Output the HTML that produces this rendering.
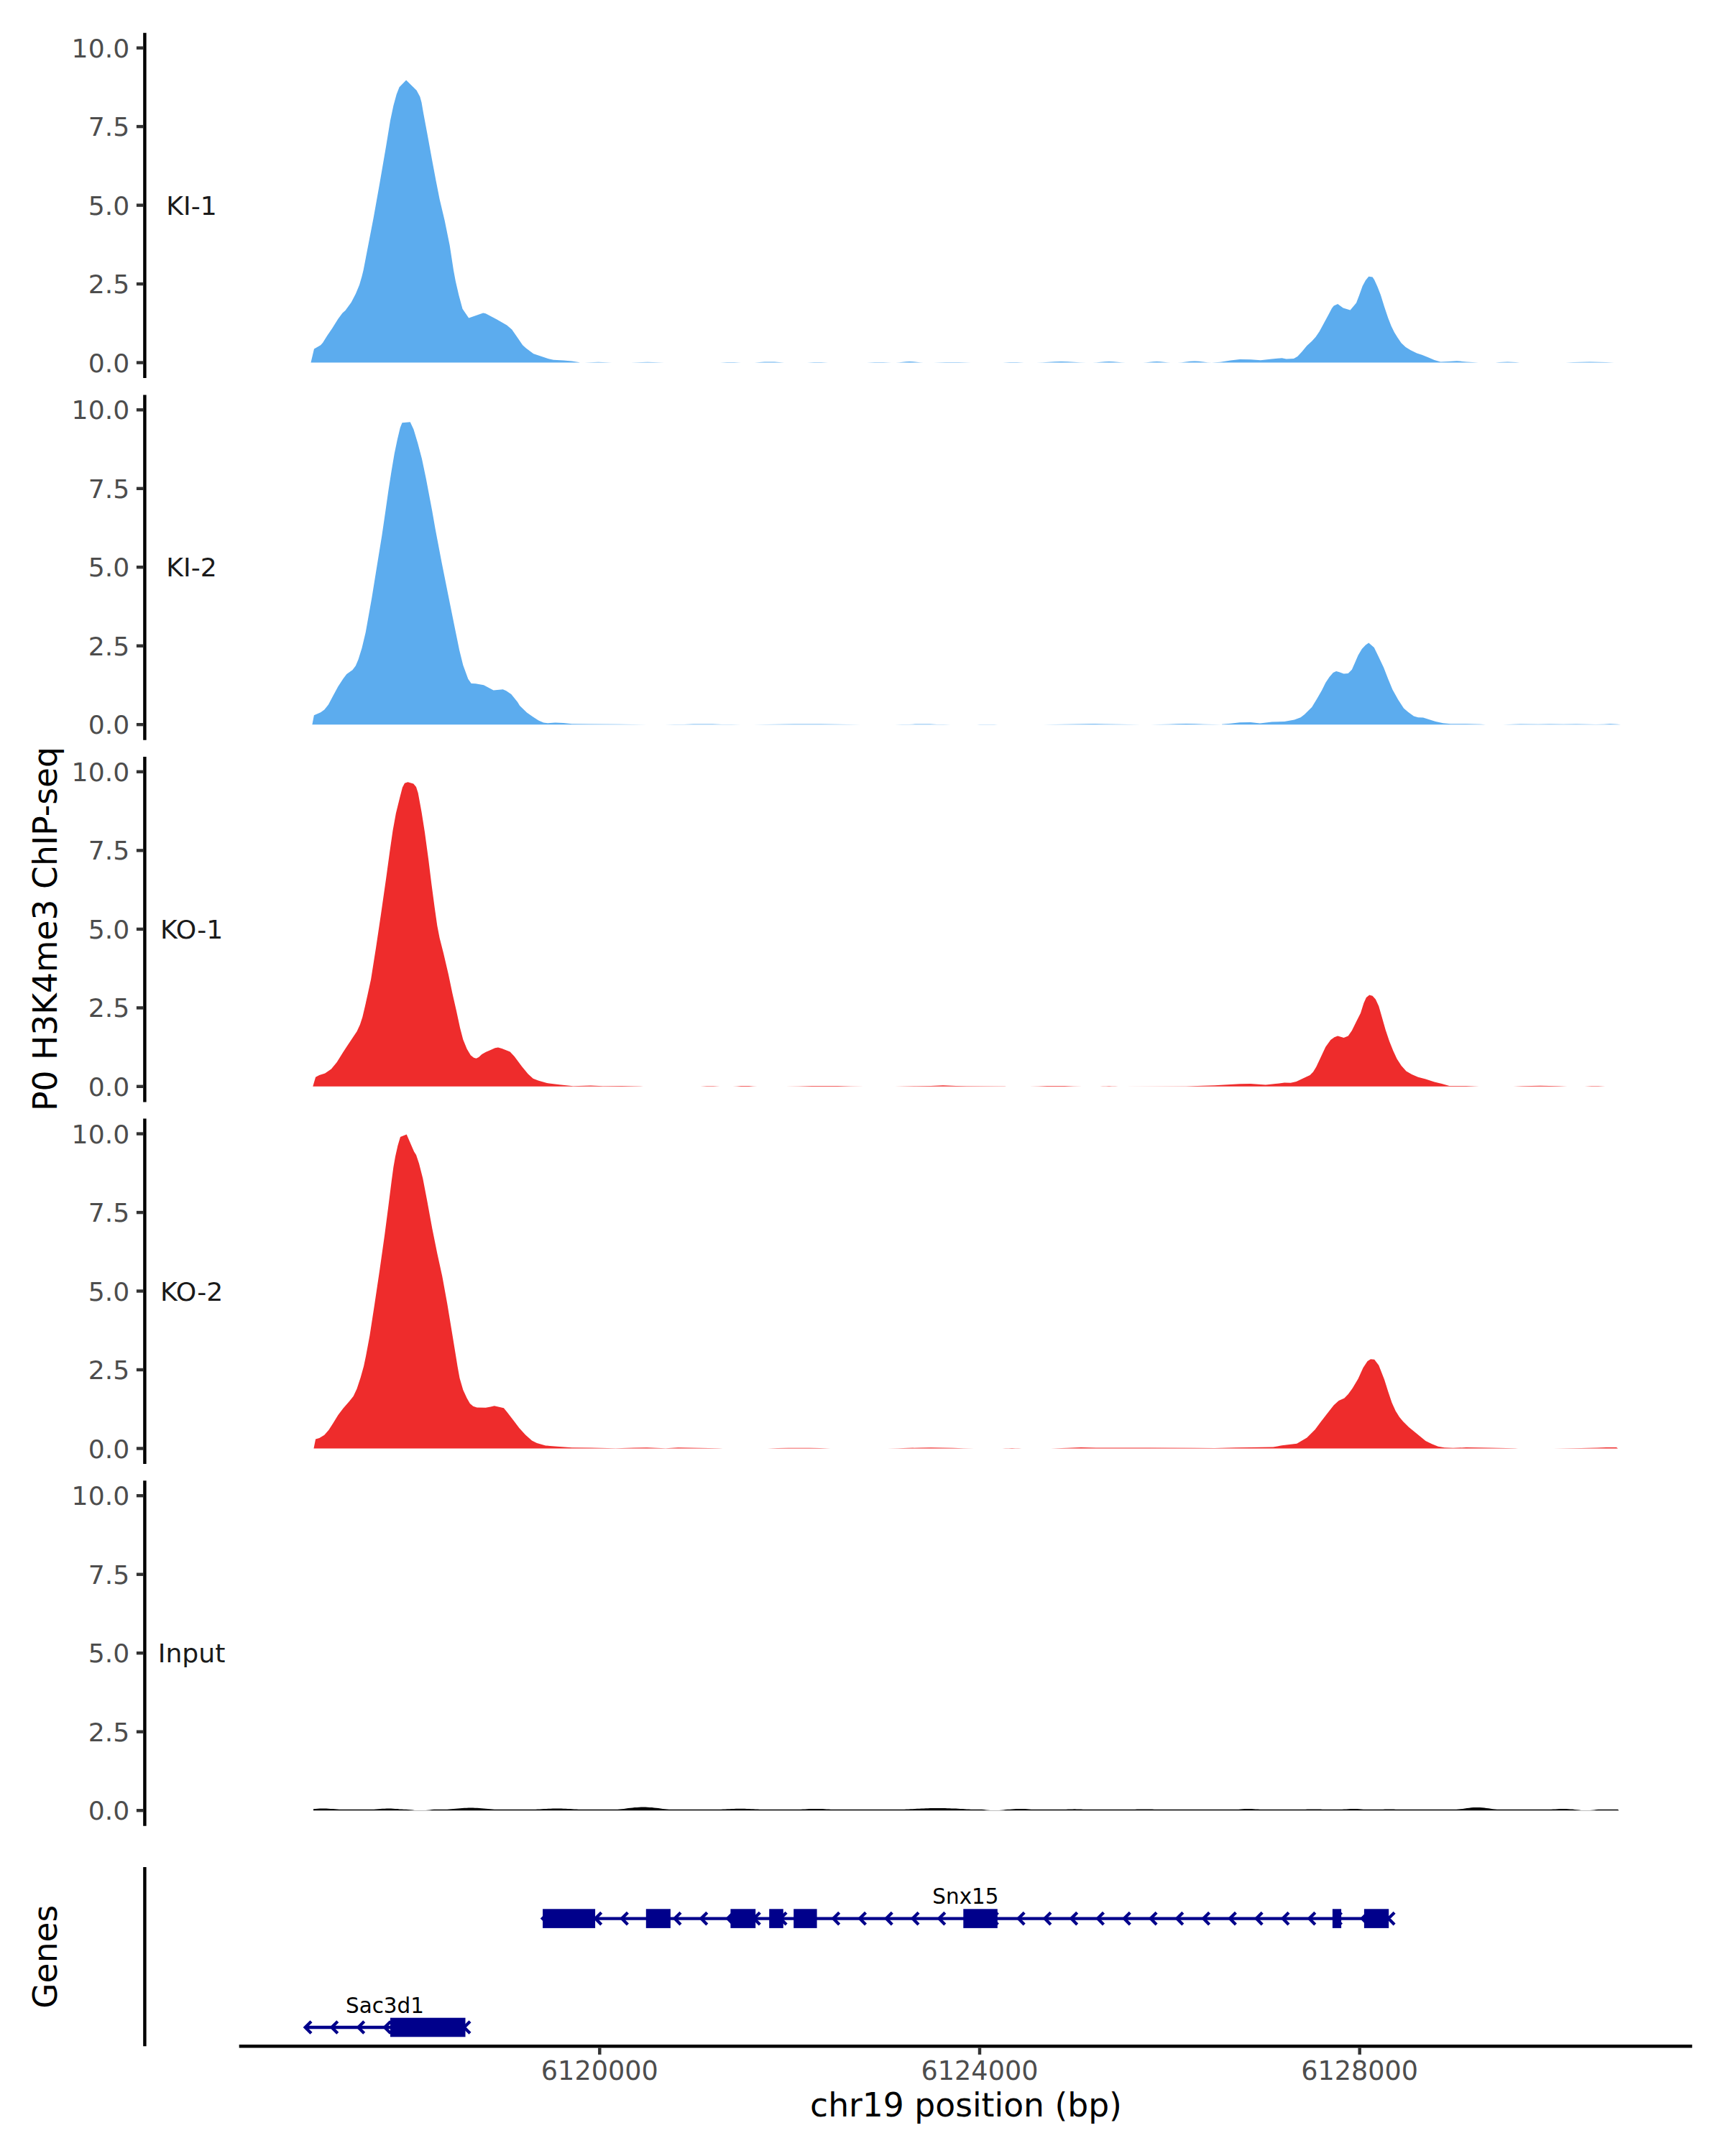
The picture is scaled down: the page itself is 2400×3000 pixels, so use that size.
<!DOCTYPE html>
<html lang="en"><head><meta charset="utf-8"><title>P0 H3K4me3 ChIP-seq</title>
<style>html,body{margin:0;padding:0;background:#fff}svg{display:block}text{font-family:'DejaVu Sans','Liberation Sans',sans-serif}.t{font-size:36.2px;fill:#4D4D4D;text-anchor:end}.tx{font-size:36.6px;fill:#4D4D4D;text-anchor:middle}.s{font-size:36.2px;fill:#1A1A1A;text-anchor:middle}.a{font-size:45.6px;fill:#000;text-anchor:middle}.g{font-size:29.4px;fill:#000;text-anchor:middle}</style></head><body>
<svg width="2400" height="3000" viewBox="0 0 2400 3000">
<rect width="2400" height="3000" fill="#fff"/>
<g>
<path d="M432.5 504.6L432.5 504.6L437 485.4L446.1 480.2L449.2 476.8L454.8 467.7L462.6 456.2L470.4 443.7L476.5 435.6L480.5 431.9L488.7 420.8L494.8 408.9L500 396.4L503.5 384.6L505.6 375.9L510.9 348.6L519.6 303.5L528.3 254.8L537 204.2L543 167.8L547.4 146.9L551.7 131.2L555.6 121.2L565.1 111.4L579.6 125.7L584.3 134.4L586.5 142.6L589.1 157.4L594.3 185.2L601.3 223.4L606.5 251.2L611.7 277.4L618.7 307L625.7 341.6L631 375.9L633.9 391.6L638.3 410.6L643.5 429.8L652.2 442.4L672.2 435.6L675.7 436.2L691.3 444.6L705.2 452.4L712.2 458.4L720 469.8L727.2 480.2L731.9 484.4L742.3 492.2L763.2 499.2L770.1 500.7L784.1 501.4L795.7 502.4L804.9 503.9L807 504.6L807 504.6L813.4 504.4L819.8 504.2L826.1 503.9L832.5 503.8L838.9 503.9L845.2 504.2L851.6 504.4L858 504.6L870 504.6L877.8 504.4L885.5 504.2L893.2 503.9L901 503.8L908.8 503.9L916.5 504.2L924.2 504.4L932 504.6L997 504.6L1001.9 504.4L1006.8 504.2L1011.6 504L1016.5 503.9L1021.4 504L1026.2 504.2L1031.1 504.4L1036 504.6L1043 504.6L1049.9 504.4L1056.8 503.9L1063.6 503.5L1070.5 503.4L1077.4 503.5L1084.2 503.9L1091.1 504.4L1098 504.6L1118 504.6L1122.9 504.4L1127.8 504.2L1132.6 504L1137.5 503.9L1142.4 504L1147.2 504.2L1152.1 504.4L1157 504.6L1200 504.6L1205.8 504.4L1211.5 504.2L1217.2 504L1223 503.9L1228.8 504L1234.5 504.2L1240.2 504.4L1246 504.6L1246 504.6L1250.9 504.3L1255.8 503.8L1260.6 503.2L1265.5 502.9L1270.4 503.2L1275.2 503.8L1280.1 504.3L1285 504.6L1290 504.6L1298.8 504.5L1307.5 504.2L1316.2 504L1325 503.9L1333.8 504L1342.5 504.2L1351.2 504.5L1360 504.6L1390 504.6L1395 504.5L1400 504.3L1405 504.1L1410 504.1L1415 504.1L1420 504.3L1425 504.5L1430 504.6L1442 504.6L1450.6 504.3L1459.2 503.8L1467.9 503.2L1476.5 502.9L1485.1 503.2L1493.8 503.8L1502.4 504.3L1511 504.6L1520 504.6L1525.8 504.3L1531.5 503.8L1537.2 503.2L1543 502.9L1548.8 503.2L1554.5 503.8L1560.2 504.3L1566 504.6L1590 504.6L1594.9 504.3L1599.8 503.8L1604.6 503.2L1609.5 502.9L1614.4 503.2L1619.2 503.8L1624.1 504.3L1629 504.6L1638 504.6L1644 504.3L1650 503.6L1656 502.8L1662 502.6L1668 502.8L1674 503.6L1680 504.3L1686 504.6L1690 504.2L1698 503.8L1712 501.6L1725 499.9L1740 500.2L1753.9 501.2L1769.6 499.6L1783.5 498.2L1789.6 499.6L1800 498.9L1805.2 496.1L1811.3 489.4L1818.3 481.1L1825.2 474.7L1830.4 468.9L1835.7 461.2L1842.6 448.6L1849.6 435.6L1853 428.9L1855.7 425.6L1861.2 423L1868.7 428.6L1878.6 431.6L1887 421.6L1891.3 410.2L1895.7 398.1L1900 390L1904.3 384.8L1909.6 385.5L1912.2 389.5L1916.5 399L1920.9 410.2L1926.1 426.9L1931.3 442.4L1935.7 453.8L1940 462.4L1944.3 469.4L1949.6 477.2L1955.7 482.9L1962.6 487.2L1971.3 491.6L1978.3 493.8L1987 497.2L1995.7 500.9L2004.3 503.4L2014.8 502.9L2027 502.2L2040 503.4L2057 504.6L2075 504.6L2080.6 504.4L2086.2 504.1L2091.9 503.7L2097.5 503.6L2103.1 503.7L2108.8 504.1L2114.4 504.4L2120 504.6L2167 504.6L2178.2 504.4L2189.5 504.1L2200.8 503.7L2212 503.6L2223.2 503.7L2234.5 504.1L2245.8 504.4L2257 504.6L2257 504.6 Z" fill="#5CACEE"/>
<line x1="201.4" x2="201.4" y1="45.7" y2="526.1" stroke="#000" stroke-width="4.45"/>
<line x1="189.9" x2="199.4" y1="504.6" y2="504.6" stroke="#333" stroke-width="4.45"/>
<text class="t" x="180.2" y="517.5">0.0</text>
<line x1="189.9" x2="199.4" y1="395.1" y2="395.1" stroke="#333" stroke-width="4.45"/>
<text class="t" x="180.2" y="408.1">2.5</text>
<line x1="189.9" x2="199.4" y1="285.6" y2="285.6" stroke="#333" stroke-width="4.45"/>
<text class="t" x="180.2" y="298.6">5.0</text>
<line x1="189.9" x2="199.4" y1="176.1" y2="176.1" stroke="#333" stroke-width="4.45"/>
<text class="t" x="180.2" y="189.1">7.5</text>
<line x1="189.9" x2="199.4" y1="66.7" y2="66.7" stroke="#333" stroke-width="4.45"/>
<text class="t" x="180.2" y="79.7">10.0</text>
<text class="s" x="266.6" y="298.6">KI-1</text>
</g>
<g>
<path d="M434.4 1008.2L434.4 1008.2L436.9 995.2L446.1 991.3L451.3 987.5L456.9 980.5L463.5 967.9L470.4 955.2L477.4 944.4L482.3 937.9L490.4 932.2L494.8 926.6L498.6 917.4L503.5 901.8L508.7 880L517.4 831.3L524.3 788.4L531.3 745.5L536.5 710L540.6 681.3L544.6 655.8L548.7 631.4L552.8 611.7L556.8 594.9L559.5 588.2L570.7 587.2L575.4 597.2L581.2 616.4L587 638.4L592.8 666.2L597.4 690.6L601.1 710L605.8 736.8L614.5 782.5L623.3 826.4L632.1 870.2L634.3 881L639.1 904.4L644.3 925.6L651.3 944.7L655.7 951L661.7 951.3L673 953.2L686.6 960.5L699.7 959.3L704.3 961.2L711.3 966.1L720 976.7L723.2 982L733 991.4L741.2 997.3L749.3 1002.6L756.2 1005.6L762 1006.3L772.5 1005.4L784 1005.9L795.7 1007.3L820 1007.5L860 1007.7L900 1008.2L925 1008.2L938.2 1008.1L951.5 1007.9L964.8 1007.6L978 1007.5L991.2 1007.6L1004.5 1007.9L1017.8 1008.1L1031 1008.2L1048 1008.2L1066.8 1008.1L1085.5 1007.8L1104.2 1007.5L1123 1007.4L1141.8 1007.5L1160.5 1007.8L1179.2 1008.1L1198 1008.2L1245 1008.2L1254.8 1008.1L1264.5 1007.9L1274.2 1007.6L1284 1007.5L1293.8 1007.6L1303.5 1007.9L1313.2 1008.1L1323 1008.2L1354 1008.2L1358.9 1008.2L1363.8 1008.1L1368.6 1007.9L1373.5 1007.9L1378.4 1007.9L1383.2 1008.1L1388.1 1008.2L1393 1008.2L1451 1008.2L1468 1008.1L1485 1007.8L1502 1007.4L1519 1007.3L1536 1007.4L1553 1007.8L1570 1008.1L1587 1008.2L1601 1008.2L1613.4 1008L1625.8 1007.7L1638.1 1007.3L1650.5 1007.1L1662.9 1007.3L1675.2 1007.7L1687.6 1008L1700 1008.2L1700 1007.7L1712 1006.7L1725 1005.2L1740 1005.1L1753 1006.5L1769.6 1004.4L1787 1004L1800.9 1001.6L1809.6 998.3L1814.8 994.3L1825.2 983.9L1832.2 972.5L1839.1 960.4L1844.3 949.9L1849.6 942.1L1854.8 936L1859.1 933.9L1863.5 935.2L1869.6 937.4L1875.7 936.9L1880.9 931.7L1885.2 922.1L1889.6 911.7L1894.8 903L1900 897.4L1904.3 894.6L1911.8 900.9L1917.4 912.5L1925.2 929.1L1931.3 944.7L1937.4 959.5L1945.2 973.4L1953 985.6L1959.1 990.8L1967 996.5L1973 998.3L1980 998.6L1988.7 1001.2L1997.4 1004L2007.8 1006.3L2018.3 1007.3L2040 1007.2L2060 1007.8L2067 1008.2L2091 1008.2L2115 1007.4L2140 1007.8L2156 1007.5L2175 1007.8L2193 1007.6L2220 1007.9L2232 1007.7L2240 1007.2L2250 1007.7L2255 1008.2L2255 1008.2 Z" fill="#5CACEE"/>
<line x1="201.4" x2="201.4" y1="549.4" y2="1029.8" stroke="#000" stroke-width="4.45"/>
<line x1="189.9" x2="199.4" y1="1008.2" y2="1008.2" stroke="#333" stroke-width="4.45"/>
<text class="t" x="180.2" y="1021.2">0.0</text>
<line x1="189.9" x2="199.4" y1="898.7" y2="898.7" stroke="#333" stroke-width="4.45"/>
<text class="t" x="180.2" y="911.7">2.5</text>
<line x1="189.9" x2="199.4" y1="789.2" y2="789.2" stroke="#333" stroke-width="4.45"/>
<text class="t" x="180.2" y="802.2">5.0</text>
<line x1="189.9" x2="199.4" y1="679.8" y2="679.8" stroke="#333" stroke-width="4.45"/>
<text class="t" x="180.2" y="692.8">7.5</text>
<line x1="189.9" x2="199.4" y1="570.3" y2="570.3" stroke="#333" stroke-width="4.45"/>
<text class="t" x="180.2" y="583.3">10.0</text>
<text class="s" x="266.6" y="802.2">KI-2</text>
</g>
<g>
<path d="M435.3 1511.8L435.3 1511.8L439.1 1498.8L444.3 1496.1L452.2 1493.5L460.9 1487.5L468.7 1477.9L477.4 1464L484.3 1453.5L491.3 1443.1L496.5 1435.3L500.9 1425.8L504.3 1415.3L507.8 1400.5L511.7 1383.1L516.1 1362.8L523 1319.3L530 1272.3L537 1223.6L542.2 1185.4L546.5 1155.8L550.9 1131.4L556.1 1110.6L559.9 1095.8L563 1089.8L567.4 1088.3L575.2 1090.6L579 1094.9L581.7 1103.6L586.5 1129.8L590.9 1157.5L596.1 1195.8L600.4 1230.6L604.8 1263.6L608.3 1288L611.7 1305.4L617 1326.2L623.9 1355.8L629.6 1383.1L634.8 1405.8L640 1430.1L644.3 1446.6L649.6 1459.6L654.8 1468.3L659.1 1471.8L662.6 1472.8L666.1 1470.9L670.4 1466.9L675.7 1464L682.6 1461L688.7 1458.2L693 1457.5L698.3 1459.1L704 1461.3L709.6 1463.6L715.7 1470.1L726.1 1484L734.8 1494.4L741.7 1500.8L748.7 1503.6L760.9 1507.1L778.3 1509.2L797.4 1511.3L821.7 1510.6L839 1511.3L865 1510.9L891 1511.6L895 1511.8L970 1511.8L974.5 1511.8L979 1511.5L983.5 1511.3L988 1511.2L992.5 1511.3L997 1511.5L1001.5 1511.8L1006 1511.8L1014 1511.8L1019.6 1511.7L1025.2 1511.4L1030.9 1511.1L1036.5 1510.9L1042.1 1511.1L1047.8 1511.4L1053.4 1511.7L1059 1511.8L1075 1511.8L1093.1 1511.7L1111.2 1511.4L1129.4 1511.1L1147.5 1510.9L1165.6 1511.1L1183.8 1511.4L1201.9 1511.7L1220 1511.8L1245 1511.8L1275 1511.2L1295 1510.9L1312 1510.2L1330 1510.9L1345 1511.3L1398 1511.6L1400 1511.8L1420 1511.8L1432.2 1511.7L1444.5 1511.4L1456.8 1511.1L1469 1510.9L1481.2 1511.1L1493.5 1511.4L1505.8 1511.7L1518 1511.8L1526 1511.8L1530.2 1511.8L1534.5 1511.6L1538.8 1511.4L1543 1511.3L1547.2 1511.4L1551.5 1511.6L1555.8 1511.8L1560 1511.8L1650 1511.5L1690 1510.3L1725 1508.3L1740 1508L1760.9 1509.4L1774.8 1508L1787 1506.6L1795.7 1506.8L1803.5 1505L1813 1500.5L1822.6 1496L1827 1491.5L1831.3 1484.5L1837.4 1471.5L1844.3 1456.8L1851.3 1447.1L1856.5 1443.3L1861.2 1441.5L1869.6 1444.1L1875.7 1441.5L1880.9 1434.1L1887.8 1420.1L1893 1409.8L1897.4 1395.8L1900.9 1388L1905.2 1384.5L1909.6 1385.8L1913.9 1390.6L1918.3 1400.1L1922.6 1414.9L1927.8 1433.2L1933 1448.8L1938.3 1461.9L1943.5 1473.2L1949.6 1482.8L1956.5 1490.6L1964.3 1494.9L1973 1498.8L1983.5 1501.5L1995.7 1505.4L2006.1 1508L2016.5 1511.1L2040 1511.1L2058 1511.8L2093 1511.8L2105.5 1511.7L2118 1511.3L2130.5 1510.9L2143 1510.8L2155.5 1510.9L2168 1511.3L2180.5 1511.7L2193 1511.8L2200 1511.8L2204.8 1511.8L2209.5 1511.5L2214.2 1511.3L2219 1511.2L2223.8 1511.3L2228.5 1511.5L2233.2 1511.8L2238 1511.8L2238 1511.8 Z" fill="#EE2C2C"/>
<line x1="201.4" x2="201.4" y1="1053" y2="1533.4" stroke="#000" stroke-width="4.45"/>
<line x1="189.9" x2="199.4" y1="1511.8" y2="1511.8" stroke="#333" stroke-width="4.45"/>
<text class="t" x="180.2" y="1524.8">0.0</text>
<line x1="189.9" x2="199.4" y1="1402.4" y2="1402.4" stroke="#333" stroke-width="4.45"/>
<text class="t" x="180.2" y="1415.4">2.5</text>
<line x1="189.9" x2="199.4" y1="1292.9" y2="1292.9" stroke="#333" stroke-width="4.45"/>
<text class="t" x="180.2" y="1305.9">5.0</text>
<line x1="189.9" x2="199.4" y1="1183.4" y2="1183.4" stroke="#333" stroke-width="4.45"/>
<text class="t" x="180.2" y="1196.4">7.5</text>
<line x1="189.9" x2="199.4" y1="1073.9" y2="1073.9" stroke="#333" stroke-width="4.45"/>
<text class="t" x="180.2" y="1086.9">10.0</text>
<text class="s" x="266.6" y="1305.9">KO-1</text>
</g>
<g>
<path d="M436.5 2015.5L436.5 2015.5L439.1 2002.5L444.3 2001.1L451.3 1996.7L457.4 1989.8L463.5 1980.2L470.4 1968.9L477.4 1959.8L486.1 1949.8L491.7 1942.8L496.5 1932.4L501.7 1916.7L506.1 1901.1L509 1887.2L514.3 1858.9L521.3 1813.7L528.3 1766.7L535.2 1718L540.4 1678L544.8 1643.2L547.4 1624.1L550 1609.3L553.5 1593.7L557 1582L565.7 1578.4L576.1 1602.4L579 1607.1L583 1618.9L588.3 1639.8L594.3 1671.1L601.3 1709.3L608.3 1744.1L615.2 1775.4L622.2 1813.7L629.1 1855.4L634.3 1887.2L636.5 1901.1L639.5 1917.6L644.3 1934.1L649.6 1945.4L653.9 1952.9L658.3 1956.7L663.5 1958.5L675.7 1958.8L682.6 1957.6L687.8 1956.2L700.9 1959.3L705.2 1964.5L713.9 1975.8L722.6 1987.2L731.3 1996.7L740 2004.5L747 2008L759.1 2011.5L778.3 2012.9L795.7 2014.3L821.7 2014.5L856.5 2015.3L882.6 2014.5L900 2014.3L926 2015.2L943.5 2014.3L1000 2015.2L1006 2015.5L1053 2015.5L1067.6 2015.4L1082.2 2015.1L1096.9 2014.8L1111.5 2014.7L1126.1 2014.8L1140.8 2015.1L1155.4 2015.4L1170 2015.5L1234 2015.5L1249.2 2015.3L1264.5 2014.8L1279.8 2014.4L1295 2014.2L1310.2 2014.4L1325.5 2014.8L1340.8 2015.3L1356 2015.5L1390 2015.5L1394.5 2015.4L1399 2015.3L1403.5 2015.2L1408 2015.1L1412.5 2015.2L1417 2015.3L1421.5 2015.4L1426 2015.5L1462 2015.5L1485 2014.7L1504 2013.9L1525 2014.6L1600 2014.6L1660 2014.7L1690 2015L1720 2014.3L1740 2014.1L1771.3 2013.4L1783.5 2011.3L1804.3 2008.7L1818.3 2000.5L1829.6 1989.2L1837.4 1978.8L1846.1 1967.5L1855.7 1955.3L1862.6 1948.9L1870.4 1945.4L1875.7 1940L1881.7 1931.8L1889.6 1918.5L1896.5 1903.2L1902.6 1894.1L1907 1891.3L1912.2 1891.8L1918.3 1899.7L1926.1 1919.7L1931.3 1936.2L1936.5 1951.8L1941.7 1963.2L1947 1971.8L1952.2 1977.9L1960 1985.8L1971.3 1995L1983.5 2004.9L1992.2 2009.2L2000.9 2012.7L2009.6 2014.3L2021.7 2014.8L2040 2014.1L2070 2014.5L2108 2015.3L2112 2015.5L2161 2015.5L2200 2015L2222 2014.6L2235 2014.1L2249 2014.1L2251 2015.5L2251 2015.5 Z" fill="#EE2C2C"/>
<line x1="201.4" x2="201.4" y1="1556.6" y2="2037" stroke="#000" stroke-width="4.45"/>
<line x1="189.9" x2="199.4" y1="2015.5" y2="2015.5" stroke="#333" stroke-width="4.45"/>
<text class="t" x="180.2" y="2028.5">0.0</text>
<line x1="189.9" x2="199.4" y1="1906" y2="1906" stroke="#333" stroke-width="4.45"/>
<text class="t" x="180.2" y="1919">2.5</text>
<line x1="189.9" x2="199.4" y1="1796.5" y2="1796.5" stroke="#333" stroke-width="4.45"/>
<text class="t" x="180.2" y="1809.5">5.0</text>
<line x1="189.9" x2="199.4" y1="1687.1" y2="1687.1" stroke="#333" stroke-width="4.45"/>
<text class="t" x="180.2" y="1700.1">7.5</text>
<line x1="189.9" x2="199.4" y1="1577.6" y2="1577.6" stroke="#333" stroke-width="4.45"/>
<text class="t" x="180.2" y="1590.6">10.0</text>
<text class="s" x="266.6" y="1809.5">KO-2</text>
</g>
<g>
<path d="M436 2519.2L436 2519.2L436 2517.2L439 2517L442 2516.8L445 2516.6L448 2516.6L451 2516.6L454 2516.6L457 2516.7L460 2516.9L463 2517.1L466 2517.3L469 2517.6L472 2517.8L475 2517.8L478 2517.8L481 2517.8L484 2517.8L487 2517.8L490 2517.8L493 2517.8L496 2517.8L499 2517.8L502 2517.8L505 2517.8L508 2517.8L511 2517.8L514 2517.8L517 2517.8L520 2517.7L523 2517.5L526 2517.3L529 2517L532 2516.8L535 2516.7L538 2516.6L541 2516.6L544 2516.6L547 2516.7L550 2516.9L553 2517.1L556 2517.4L559 2517.6L562 2517.8L565 2517.8L568 2518L571 2518.3L574 2518.6L577 2518.9L580 2519L583 2519L586 2519L589 2519L592 2519L595 2518.7L598 2518.4L601 2518.1L604 2517.8L607 2517.8L610 2517.8L613 2517.8L616 2517.8L619 2517.8L622 2517.7L625 2517.5L628 2517.2L631 2517L634 2516.7L637 2516.4L640 2516.2L643 2516L646 2515.8L649 2515.7L652 2515.6L655 2515.6L658 2515.6L661 2515.7L664 2515.8L667 2516L670 2516.2L673 2516.4L676 2516.7L679 2517L682 2517.2L685 2517.5L688 2517.7L691 2517.8L694 2517.8L697 2517.8L700 2517.8L703 2517.8L706 2517.8L709 2517.8L712 2517.8L715 2517.8L718 2517.8L721 2517.8L724 2517.8L727 2517.8L730 2517.8L733 2517.8L736 2517.8L739 2517.8L742 2517.8L745 2517.7L748 2517.6L751 2517.4L754 2517.2L757 2517.1L760 2516.9L763 2516.8L766 2516.7L769 2516.6L772 2516.6L775 2516.6L778 2516.6L781 2516.6L784 2516.7L787 2516.8L790 2516.9L793 2517.1L796 2517.2L799 2517.4L802 2517.6L805 2517.7L808 2517.8L811 2517.8L814 2517.8L817 2517.8L820 2517.8L823 2517.8L826 2517.8L829 2517.8L832 2517.8L835 2517.8L838 2517.8L841 2517.8L844 2517.8L847 2517.8L850 2517.8L853 2517.8L856 2517.8L859 2517.8L862 2517.5L865 2517.2L868 2516.9L871 2516.5L874 2516.1L877 2515.8L880 2515.4L883 2515.1L886 2514.9L889 2514.7L892 2514.6L895 2514.6L898 2514.6L901 2514.7L904 2514.9L907 2515.1L910 2515.4L913 2515.8L916 2516.1L919 2516.5L922 2516.9L925 2517.2L928 2517.5L931 2517.8L934 2517.8L937 2517.8L940 2517.8L943 2517.8L946 2517.8L949 2517.8L952 2517.8L955 2517.8L958 2517.8L961 2517.8L964 2517.8L967 2517.8L970 2517.8L973 2517.8L976 2517.8L979 2517.8L982 2517.8L985 2517.8L988 2517.8L991 2517.8L994 2517.8L997 2517.8L1000 2517.8L1003 2517.8L1006 2517.6L1009 2517.5L1012 2517.3L1015 2517.2L1018 2517L1021 2516.9L1024 2516.8L1027 2516.8L1030 2516.8L1033 2516.8L1036 2516.8L1039 2516.9L1042 2517L1045 2517.2L1048 2517.3L1051 2517.5L1054 2517.6L1057 2517.8L1060 2517.8L1063 2517.8L1066 2517.8L1069 2517.8L1072 2517.8L1075 2517.8L1078 2517.8L1081 2517.8L1084 2517.8L1087 2517.8L1090 2517.8L1093 2517.8L1096 2517.8L1099 2517.8L1102 2517.8L1105 2517.8L1108 2517.8L1111 2517.8L1114 2517.7L1117 2517.6L1120 2517.4L1123 2517.3L1126 2517.1L1129 2517L1132 2517L1135 2517L1138 2517L1141 2517L1144 2517.1L1147 2517.3L1150 2517.4L1153 2517.6L1156 2517.7L1159 2517.8L1162 2517.8L1165 2517.8L1168 2517.8L1171 2517.8L1174 2517.8L1177 2517.8L1180 2517.8L1183 2517.8L1186 2517.8L1189 2517.8L1192 2517.8L1195 2517.8L1198 2517.8L1201 2517.8L1204 2517.8L1207 2517.8L1210 2517.8L1213 2517.8L1216 2517.8L1219 2517.8L1222 2517.8L1225 2517.8L1228 2517.8L1231 2517.8L1234 2517.8L1237 2517.8L1240 2517.8L1243 2517.8L1246 2517.8L1249 2517.8L1252 2517.8L1255 2517.8L1258 2517.7L1261 2517.6L1264 2517.5L1267 2517.3L1270 2517.2L1273 2517L1276 2516.8L1279 2516.7L1282 2516.6L1285 2516.4L1288 2516.3L1291 2516.2L1294 2516.1L1297 2516L1300 2516L1303 2516L1306 2516L1309 2516L1312 2516L1315 2516.1L1318 2516.2L1321 2516.3L1324 2516.4L1327 2516.5L1330 2516.6L1333 2516.8L1336 2517L1339 2517.1L1342 2517.3L1345 2517.4L1348 2517.6L1351 2517.7L1354 2517.8L1357 2517.8L1360 2517.8L1363 2517.8L1366 2517.8L1369 2518.1L1372 2518.4L1375 2518.7L1378 2519L1381 2519L1384 2519L1387 2519L1390 2519L1393 2518.7L1396 2518.4L1399 2518.1L1402 2517.8L1405 2517.7L1408 2517.5L1411 2517.3L1414 2517.1L1417 2517L1420 2517L1423 2517L1426 2517.1L1429 2517.3L1432 2517.5L1435 2517.7L1438 2517.8L1441 2517.8L1444 2517.8L1447 2517.8L1450 2517.8L1453 2517.8L1456 2517.8L1459 2517.8L1462 2517.8L1465 2517.8L1468 2517.8L1471 2517.8L1474 2517.8L1477 2517.8L1480 2517.8L1483 2517.7L1486 2517.6L1489 2517.5L1492 2517.4L1495 2517.3L1498 2517.4L1501 2517.5L1504 2517.6L1507 2517.7L1510 2517.8L1513 2517.8L1516 2517.8L1519 2517.8L1522 2517.8L1525 2517.8L1528 2517.8L1531 2517.8L1534 2517.8L1537 2517.8L1540 2517.8L1543 2517.8L1546 2517.8L1549 2517.8L1552 2517.8L1555 2517.8L1558 2517.8L1561 2517.8L1564 2517.8L1567 2517.8L1570 2517.8L1573 2517.8L1576 2517.8L1579 2517.7L1582 2517.6L1585 2517.5L1588 2517.4L1591 2517.4L1594 2517.4L1597 2517.4L1600 2517.5L1603 2517.6L1606 2517.7L1609 2517.8L1612 2517.8L1615 2517.8L1618 2517.8L1621 2517.8L1624 2517.8L1627 2517.8L1630 2517.8L1633 2517.8L1636 2517.8L1639 2517.8L1642 2517.8L1645 2517.8L1648 2517.8L1651 2517.8L1654 2517.8L1657 2517.8L1660 2517.8L1663 2517.8L1666 2517.8L1669 2517.7L1672 2517.7L1675 2517.7L1678 2517.7L1681 2517.7L1684 2517.8L1687 2517.8L1690 2517.8L1693 2517.8L1696 2517.8L1699 2517.8L1702 2517.8L1705 2517.8L1708 2517.8L1711 2517.8L1714 2517.8L1717 2517.8L1720 2517.8L1723 2517.8L1726 2517.6L1729 2517.3L1732 2517.1L1735 2517L1738 2517L1741 2517L1744 2517.2L1747 2517.4L1750 2517.6L1753 2517.8L1756 2517.8L1759 2517.8L1762 2517.8L1765 2517.8L1768 2517.8L1771 2517.8L1774 2517.8L1777 2517.8L1780 2517.8L1783 2517.8L1786 2517.8L1789 2517.8L1792 2517.8L1795 2517.8L1798 2517.8L1801 2517.8L1804 2517.8L1807 2517.8L1810 2517.8L1813 2517.8L1816 2517.7L1819 2517.6L1822 2517.5L1825 2517.4L1828 2517.4L1831 2517.4L1834 2517.5L1837 2517.6L1840 2517.8L1843 2517.8L1846 2517.8L1849 2517.8L1852 2517.8L1855 2517.8L1858 2517.8L1861 2517.8L1864 2517.8L1867 2517.8L1870 2517.6L1873 2517.4L1876 2517.2L1879 2517L1882 2517L1885 2517L1888 2517.1L1891 2517.3L1894 2517.6L1897 2517.8L1900 2517.8L1903 2517.8L1906 2517.8L1909 2517.8L1912 2517.8L1915 2517.8L1918 2517.8L1921 2517.8L1924 2517.7L1927 2517.5L1930 2517.4L1933 2517.4L1936 2517.4L1939 2517.6L1942 2517.8L1945 2517.8L1948 2517.8L1951 2517.8L1954 2517.8L1957 2517.8L1960 2517.8L1963 2517.8L1966 2517.8L1969 2517.8L1972 2517.8L1975 2517.8L1978 2517.8L1981 2517.8L1984 2517.8L1987 2517.8L1990 2517.8L1993 2517.8L1996 2517.8L1999 2517.8L2002 2517.8L2005 2517.8L2008 2517.8L2011 2517.8L2014 2517.8L2017 2517.8L2020 2517.8L2023 2517.8L2026 2517.8L2029 2517.6L2032 2517.3L2035 2516.9L2038 2516.5L2041 2516L2044 2515.7L2047 2515.3L2050 2515.1L2053 2515L2056 2515L2059 2515.1L2062 2515.3L2065 2515.5L2068 2515.9L2071 2516.3L2074 2516.7L2077 2517.2L2080 2517.5L2083 2517.8L2086 2517.8L2089 2517.8L2092 2517.8L2095 2517.8L2098 2517.8L2101 2517.8L2104 2517.8L2107 2517.8L2110 2517.8L2113 2517.8L2116 2517.8L2119 2517.8L2122 2517.8L2125 2517.8L2128 2517.8L2131 2517.8L2134 2517.8L2137 2517.8L2140 2517.8L2143 2517.8L2146 2517.8L2149 2517.8L2152 2517.8L2155 2517.8L2158 2517.8L2161 2517.6L2164 2517.4L2167 2517.2L2170 2517.1L2173 2517L2176 2517L2179 2517L2182 2517.2L2185 2517.4L2188 2517.6L2191 2518L2194 2518.3L2197 2518.6L2200 2518.9L2203 2519L2206 2519L2209 2519L2212 2519L2215 2518.7L2218 2518.4L2221 2518.1L2224 2517.8L2227 2517.8L2230 2517.8L2233 2517.8L2236 2517.8L2239 2517.8L2242 2517.8L2245 2517.8L2248 2517.8L2251 2517.8L2252.4 2519.2L2252.4 2519.2 Z" fill="#000000"/>
<line x1="201.4" x2="201.4" y1="2060.3" y2="2540.7" stroke="#000" stroke-width="4.45"/>
<line x1="189.9" x2="199.4" y1="2519.2" y2="2519.2" stroke="#333" stroke-width="4.45"/>
<text class="t" x="180.2" y="2532.2">0.0</text>
<line x1="189.9" x2="199.4" y1="2409.7" y2="2409.7" stroke="#333" stroke-width="4.45"/>
<text class="t" x="180.2" y="2422.7">2.5</text>
<line x1="189.9" x2="199.4" y1="2300.2" y2="2300.2" stroke="#333" stroke-width="4.45"/>
<text class="t" x="180.2" y="2313.2">5.0</text>
<line x1="189.9" x2="199.4" y1="2190.7" y2="2190.7" stroke="#333" stroke-width="4.45"/>
<text class="t" x="180.2" y="2203.7">7.5</text>
<line x1="189.9" x2="199.4" y1="2081.2" y2="2081.2" stroke="#333" stroke-width="4.45"/>
<text class="t" x="180.2" y="2094.2">10.0</text>
<text class="s" x="266.6" y="2313.2">Input</text>
</g>
<text class="a" transform="translate(79.0 1292.6) rotate(-90)">P0 H3K4me3 ChIP-seq</text>
<line x1="201.4" x2="201.4" y1="2597.9" y2="2847.2" stroke="#000" stroke-width="4.45"/>
<line x1="332.7" x2="2354.3" y1="2847.3" y2="2847.3" stroke="#000" stroke-width="4.45"/>
<line x1="834.3" x2="834.3" y1="2849.4" y2="2858.9" stroke="#333" stroke-width="4.45"/>
<text class="tx" x="834.3" y="2894.3">6120000</text>
<line x1="1363.0" x2="1363.0" y1="2849.4" y2="2858.9" stroke="#333" stroke-width="4.45"/>
<text class="tx" x="1363.0" y="2894.3">6124000</text>
<line x1="1891.7" x2="1891.7" y1="2849.4" y2="2858.9" stroke="#333" stroke-width="4.45"/>
<text class="tx" x="1891.7" y="2894.3">6128000</text>
<text class="a" x="1344" y="2944.5">chr19 position (bp)</text>
<text class="a" transform="translate(78.8 2722.7) rotate(-90)">Genes</text>
<g stroke="#00008B" fill="none" stroke-width="4.3" stroke-linejoin="miter" stroke-miterlimit="10"><line x1="754.8" x2="1931.8" y1="2669.6" y2="2669.6"/><path d="M763.1 2661.3 L754.8 2669.6 L763.1 2677.9M799.9 2661.3 L791.6 2669.6 L799.9 2677.9M836.7 2661.3 L828.4 2669.6 L836.7 2677.9M873.4 2661.3 L865.1 2669.6 L873.4 2677.9M910.2 2661.3 L901.9 2669.6 L910.2 2677.9M947 2661.3 L938.7 2669.6 L947 2677.9M983.8 2661.3 L975.5 2669.6 L983.8 2677.9M1020.6 2661.3 L1012.3 2669.6 L1020.6 2677.9M1057.3 2661.3 L1049 2669.6 L1057.3 2677.9M1094.1 2661.3 L1085.8 2669.6 L1094.1 2677.9M1130.9 2661.3 L1122.6 2669.6 L1130.9 2677.9M1167.7 2661.3 L1159.4 2669.6 L1167.7 2677.9M1204.5 2661.3 L1196.2 2669.6 L1204.5 2677.9M1241.3 2661.3 L1233 2669.6 L1241.3 2677.9M1278 2661.3 L1269.7 2669.6 L1278 2677.9M1314.8 2661.3 L1306.5 2669.6 L1314.8 2677.9M1351.6 2661.3 L1343.3 2669.6 L1351.6 2677.9M1388.4 2661.3 L1380.1 2669.6 L1388.4 2677.9M1425.2 2661.3 L1416.9 2669.6 L1425.2 2677.9M1461.9 2661.3 L1453.6 2669.6 L1461.9 2677.9M1498.7 2661.3 L1490.4 2669.6 L1498.7 2677.9M1535.5 2661.3 L1527.2 2669.6 L1535.5 2677.9M1572.3 2661.3 L1564 2669.6 L1572.3 2677.9M1609.1 2661.3 L1600.8 2669.6 L1609.1 2677.9M1645.8 2661.3 L1637.5 2669.6 L1645.8 2677.9M1682.6 2661.3 L1674.3 2669.6 L1682.6 2677.9M1719.4 2661.3 L1711.1 2669.6 L1719.4 2677.9M1756.2 2661.3 L1747.9 2669.6 L1756.2 2677.9M1793 2661.3 L1784.7 2669.6 L1793 2677.9M1829.8 2661.3 L1821.5 2669.6 L1829.8 2677.9M1866.5 2661.3 L1858.2 2669.6 L1866.5 2677.9M1903.3 2661.3 L1895 2669.6 L1903.3 2677.9M1940.1 2661.3 L1931.8 2669.6 L1940.1 2677.9"/></g><rect x="755.1" y="2656.3" width="73" height="26.6" fill="#00008B"/><rect x="898.8" y="2656.3" width="34.1" height="26.6" fill="#00008B"/><rect x="1016.4" y="2656.3" width="34.8" height="26.6" fill="#00008B"/><rect x="1070.2" y="2656.3" width="19.6" height="26.6" fill="#00008B"/><rect x="1104.2" y="2656.3" width="32.4" height="26.6" fill="#00008B"/><rect x="1340.3" y="2656.3" width="47.5" height="26.6" fill="#00008B"/><rect x="1853.9" y="2656.3" width="12.2" height="26.6" fill="#00008B"/><rect x="1897.9" y="2656.3" width="34.3" height="26.6" fill="#00008B"/><text class="g" x="1343.4" y="2649.4">Snx15</text>
<g stroke="#00008B" fill="none" stroke-width="4.3" stroke-linejoin="miter" stroke-miterlimit="10"><line x1="424.7" x2="645.7" y1="2821.0" y2="2821.0"/><path d="M433 2812.7 L424.7 2821 L433 2829.3M469.8 2812.7 L461.5 2821 L469.8 2829.3M506.7 2812.7 L498.4 2821 L506.7 2829.3M543.5 2812.7 L535.2 2821 L543.5 2829.3M580.3 2812.7 L572 2821 L580.3 2829.3M617.2 2812.7 L608.9 2821 L617.2 2829.3M654 2812.7 L645.7 2821 L654 2829.3"/></g><rect x="543" y="2807.7" width="104.5" height="26.6" fill="#00008B"/><text class="g" x="535.5" y="2800.9">Sac3d1</text>
</svg></body></html>
